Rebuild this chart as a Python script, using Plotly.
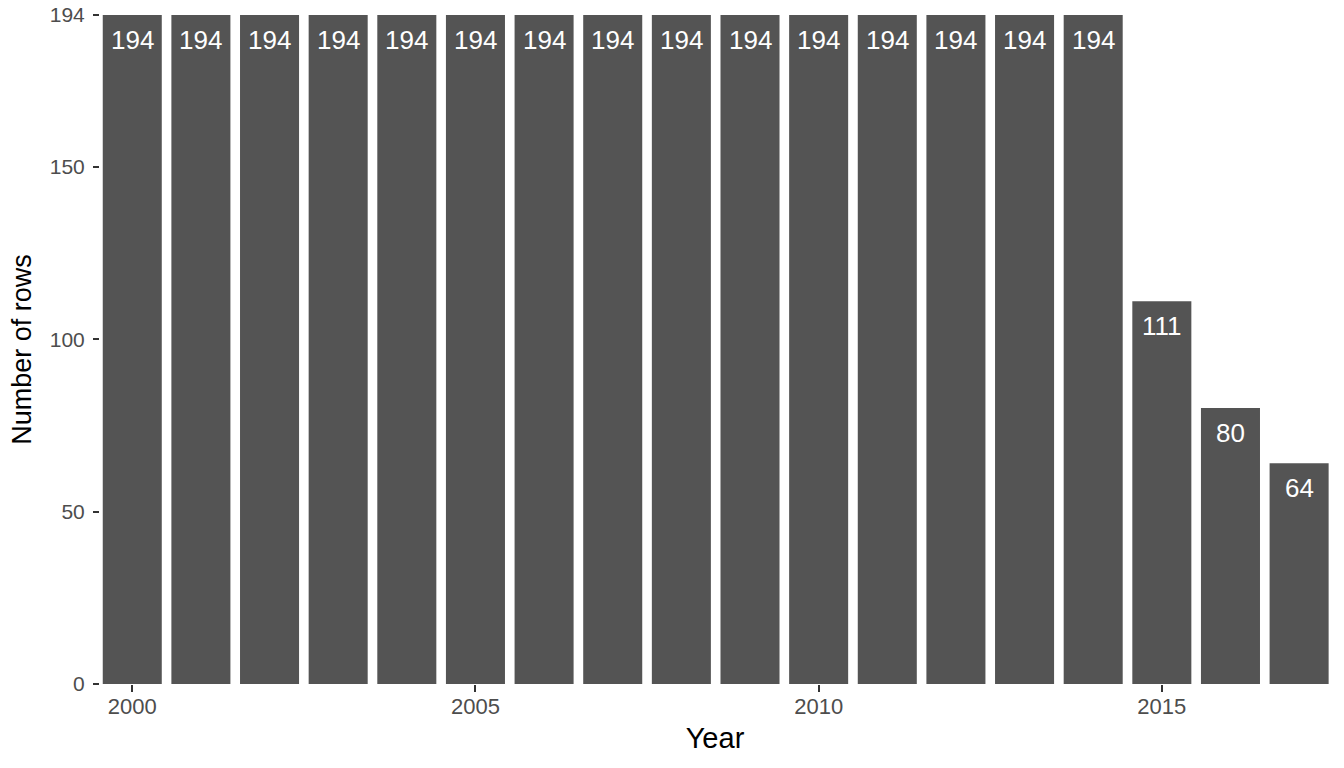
import plotly.graph_objects as go

years = list(range(2000, 2018))
rows = [194, 194, 194, 194, 194, 194, 194, 194, 194, 194, 194, 194, 194, 194, 194, 111, 80, 64]
x_ticks = [2000, 2005, 2010, 2015]
y_ticks = [0, 50, 100, 150, 194]

FONT = "Liberation Sans, Arial, sans-serif"

fig = go.Figure()
fig.add_trace(go.Bar(
    x=years, y=rows, width=0.86,
    marker=dict(color="#545454", line=dict(width=0)),
    hoverinfo="skip",
))
for xv, yv in zip(years, rows):
    fig.add_annotation(x=xv, y=yv, text=str(yv), showarrow=False,
                       yanchor="top", yshift=-8,
                       font=dict(family=FONT, size=26, color="white"))

fig.update_layout(
    width=1344, height=768,
    paper_bgcolor="white", plot_bgcolor="white",
    margin=dict(l=100, r=14, t=15, b=84, autoexpand=False),
    showlegend=False, hovermode=False,
    font=dict(family=FONT),
    xaxis=dict(
        range=[1999.53, 2017.45], tickvals=x_ticks, automargin=False,
        ticks="outside", ticklen=7, tickwidth=2, tickcolor="#333333",
        tickfont=dict(size=22, color="#4d4d4d"),
        ticklabelstandoff=-4, ticklabeloverflow="allow",
        showgrid=False, zeroline=False, showline=False,
        title=dict(text="Year", font=dict(size=29, color="black"), standoff=9),
    ),
    yaxis=dict(
        range=[0, 194], tickvals=y_ticks, automargin=False,
        ticks="outside", ticklen=6, tickwidth=2, tickcolor="#333333",
        tickfont=dict(size=21, color="#4d4d4d"),
        ticklabelstandoff=4, ticklabeloverflow="allow",
        showgrid=False, zeroline=False, showline=False,
        title=dict(text="Number of rows", font=dict(size=27, color="black"), standoff=10),
    ),
)

fig.write_html("out.html", config={"displayModeBar": False},
               post_script="document.body.style.margin='0';document.body.style.overflow='hidden';")
